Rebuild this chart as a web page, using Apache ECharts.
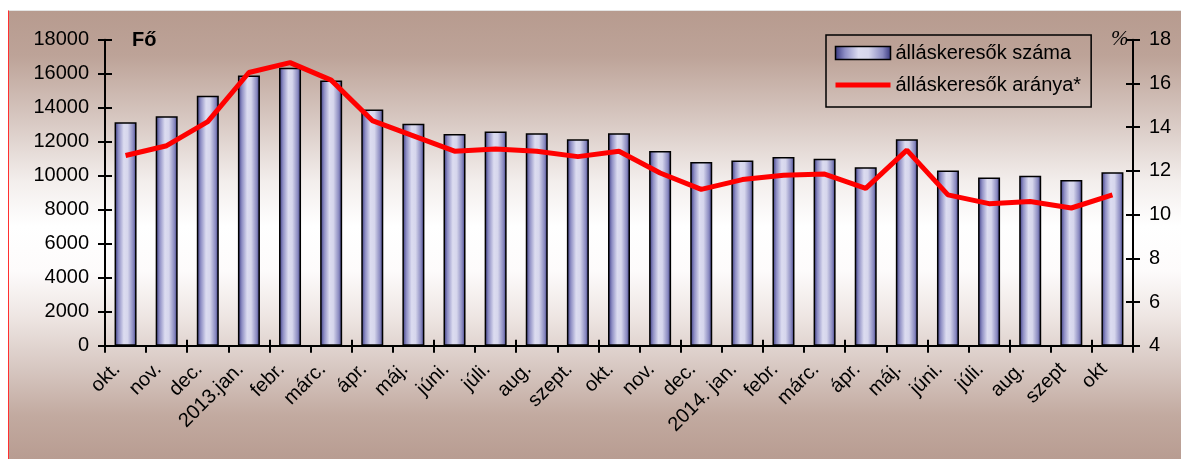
<!DOCTYPE html>
<html>
<head>
<meta charset="utf-8">
<script src="https://cdn.jsdelivr.net/npm/echarts@6/dist/echarts.min.js"></script>
<style>
  html, body { margin: 0; padding: 0; background: #ffffff; }
  #wrap { position: relative; width: 1181px; height: 459px; overflow: hidden; background: #ffffff; }
  #bg { position: absolute; left: 8px; top: 10px; width: 1173px; height: 449px;
        border-left: 1px solid #ff3030; border-top: 1px solid #e4e4e4;
        background: linear-gradient(to bottom, #b79b8f 0%, #bda398 10%, #d9cac4 25%, #f3eeec 38%, #ffffff 48%, #fdfbfb 58%, #eee6e3 68%, #d6c6c0 80%, #c2aaa0 90%, #b89c91 100%); }
  #chart { position: absolute; left: 0; top: 0; width: 1181px; height: 459px; }
</style>
</head>
<body>
<div id="wrap">
  <div id="bg"></div>
  <div id="chart"></div>
</div>
<script>
// ---- data ----
const categories = ['okt.', 'nov.', 'dec.', '2013.jan.', 'febr.', 'márc.', 'ápr.', 'máj.', 'júni.', 'júli.', 'aug.', 'szept.', 'okt.',
                    'nov.', 'dec.', '2014. jan.', 'febr.', 'márc.', 'ápr.', 'máj.', 'júni.', 'júli.', 'aug.', 'szept', 'okt'];
const jobSeekers = [13150, 13500, 14700, 15900, 16350, 15600, 13900, 13050, 12450, 12600, 12500, 12150, 12500,
                    11450, 10800, 10900, 11100, 11000, 10500, 12150, 10300, 9900, 10000, 9750, 10200];
const jobSeekerRate = [12.7, 13.15, 14.25, 16.5, 16.95, 16.15, 14.3, 13.6, 12.9, 13.0, 12.9, 12.65, 12.9,
                       11.9, 11.15, 11.6, 11.8, 11.85, 11.2, 12.95, 10.9, 10.5, 10.6, 10.3, 10.9];
const seriesNames = ['álláskeresők száma', 'álláskeresők aránya*'];
const leftTitle = 'Fő';
const rightTitle = '%';

const FONT = '"Liberation Sans", Arial, sans-serif';
const chart = echarts.init(document.getElementById('chart'), null, { renderer: 'canvas' });

const barGradient = new echarts.graphic.LinearGradient(0, 0, 1, 0, [
  { offset: 0, color: '#34347c' },
  { offset: 0.18, color: '#8e8ec4' },
  { offset: 0.42, color: '#dcdcf0' },
  { offset: 0.6, color: '#d6d6ec' },
  { offset: 0.85, color: '#8a8ac0' },
  { offset: 1, color: '#34347c' }
]);

const axisLineStyle = { color: '#000', width: 2 };
const plain = v => String(v);

const option = {
  backgroundColor: 'transparent',
  animation: false,
  textStyle: { fontFamily: FONT },
  grid: { left: 105, right: 48, top: 39.7, bottom: 113.3, containLabel: false },
  legend: {
    orient: 'vertical',
    left: 826, top: 35,
    padding: [8, 10, 12, 7],
    itemGap: 12,
    itemWidth: 55, itemHeight: 13,
    borderColor: '#000', borderWidth: 1.5,
    backgroundColor: 'transparent',
    textStyle: { fontSize: 20, color: '#000', fontFamily: FONT },
    data: [
      { name: seriesNames[0], icon: 'rect', itemStyle: { color: barGradient, borderColor: '#000', borderWidth: 1.5 } },
      { name: seriesNames[1], itemStyle: { opacity: 0 }, lineStyle: { color: '#ff0000', width: 5 } }
    ]
  },
  xAxis: [
    {
      type: 'category', data: categories, position: 'bottom',
      axisLine: { lineStyle: axisLineStyle },
      axisTick: { show: true, length: 7, lineStyle: { color: '#000', width: 2 } },
      axisLabel: { interval: 0, rotate: 45, fontSize: 20, color: '#000', margin: 12, padding: [0, 12, 0, 0], fontFamily: FONT },
      splitLine: { show: false }
    },
    {
      type: 'category', data: categories, position: 'bottom',
      axisLine: { show: false },
      axisTick: { show: true, inside: true, length: 6, lineStyle: { color: '#000', width: 2 } },
      axisLabel: { show: false },
      splitLine: { show: false }
    }
  ],
  yAxis: [
    {
      type: 'value', position: 'left', min: 0, max: 18000, interval: 2000,
      axisLine: { show: true, lineStyle: axisLineStyle },
      axisTick: { show: true, length: 7, lineStyle: { color: '#000', width: 2 } },
      axisLabel: { fontSize: 20, color: '#000', margin: 16, fontFamily: FONT, formatter: plain },
      splitLine: { show: false }
    },
    {
      type: 'value', position: 'right', min: 4, max: 18, interval: 2,
      axisLine: { show: true, lineStyle: axisLineStyle },
      axisTick: { show: true, length: 7, lineStyle: { color: '#000', width: 2 } },
      axisLabel: { fontSize: 20, color: '#000', margin: 16, fontFamily: FONT, formatter: plain },
      splitLine: { show: false }
    },
    {
      type: 'value', position: 'left', min: 0, max: 18000, interval: 2000,
      axisLine: { show: false },
      axisTick: { show: true, inside: true, length: 7, lineStyle: { color: '#000', width: 2 } },
      axisLabel: { show: false },
      splitLine: { show: false }
    },
    {
      type: 'value', position: 'right', min: 4, max: 18, interval: 2,
      axisLine: { show: false },
      axisTick: { show: true, inside: true, length: 7, lineStyle: { color: '#000', width: 2 } },
      axisLabel: { show: false },
      splitLine: { show: false }
    }
  ],
  graphic: [
    { type: 'text', left: 132, top: 30, style: { text: leftTitle, font: 'bold 20px ' + FONT, fill: '#000' } },
    { type: 'text', left: 1111, top: 29, style: { text: rightTitle, font: 'italic 21px "Liberation Serif", "Times New Roman", serif', fill: '#000' } }
  ],
  series: [
    {
      name: seriesNames[0], type: 'bar', data: jobSeekers,
      xAxisIndex: 0, yAxisIndex: 0,
      barWidth: 22,
      itemStyle: { color: barGradient, borderColor: '#000', borderWidth: 1.5 },
      z: 2
    },
    {
      name: seriesNames[1], type: 'line', data: jobSeekerRate,
      xAxisIndex: 0, yAxisIndex: 1,
      symbol: 'none',
      lineStyle: { color: '#ff0000', width: 5 },
      itemStyle: { color: '#ff0000' },
      z: 3
    }
  ]
};
chart.setOption(option);
</script>
</body>
</html>
